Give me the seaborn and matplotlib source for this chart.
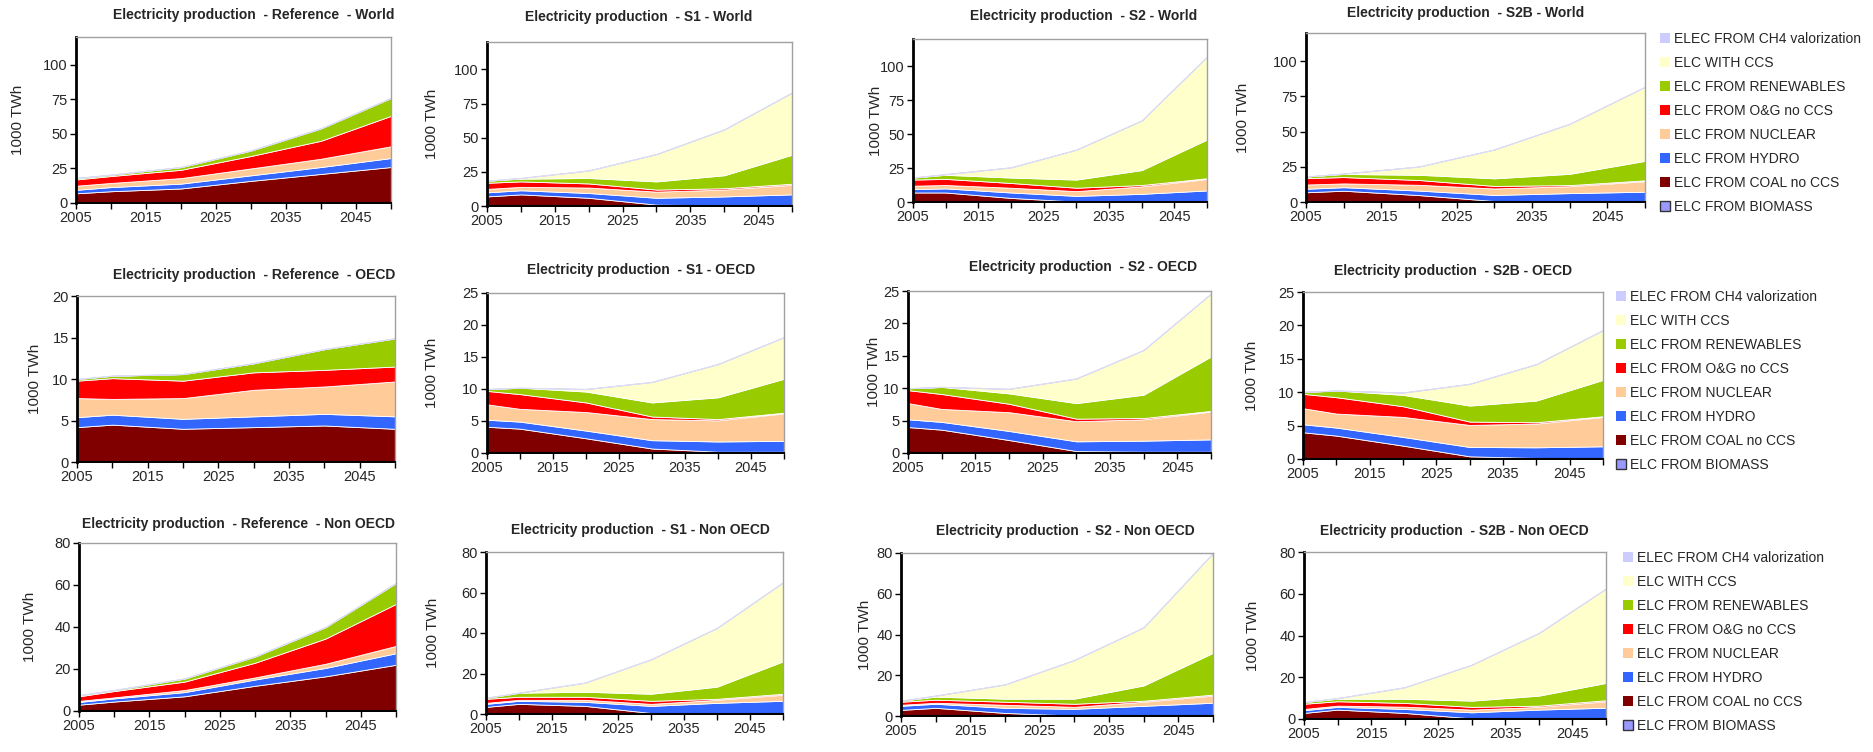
"""
Electricity production per scenario and region, stacked area charts (1000 TWh).
"""

import matplotlib
matplotlib.use("Agg")
import matplotlib.pyplot as plt
from matplotlib.patches import Patch
import seaborn as sns

W, H = 1874, 752

YEARS = [2005, 2010, 2020, 2030, 2040, 2050]

# stack order, bottom to top
LABELS = [
    "ELC FROM BIOMASS", "ELC FROM COAL no CCS", "ELC FROM HYDRO", "ELC FROM NUCLEAR",
    "ELC FROM O&G no CCS", "ELC FROM RENEWABLES", "ELC WITH CCS", "ELEC FROM CH4 valorization",
]
COLORS = ["#9999FF", "#800000", "#3366FF", "#FFCC99", "#FF0000", "#99CC00", "#FFFFCC", "#CCCCFF"]

biomass = [0, 0, 0, 0, 0, 0]
ch4 = [0, 0, 0, 0, 0, 0]

# --- Reference ---
ref_world = dict(coal=[7, 8.5, 10.5, 16, 21, 26], hydro=[2.5, 3, 3.5, 4, 5, 6.5],
                 nuclear=[3, 3, 4, 5, 6, 8.5], og=[4.5, 5, 6, 9, 13, 22],
                 renew=[1, 1, 2, 4, 9, 13], ccs=[0, 0, 0, 0, 0, 0])
ref_oecd = dict(coal=[4.2, 4.5, 4.0, 4.2, 4.4, 4.0], hydro=[1.2, 1.2, 1.2, 1.3, 1.4, 1.5],
                nuclear=[2.3, 1.9, 2.5, 3.2, 3.3, 4.2], og=[2.1, 2.5, 2.1, 2.1, 2.0, 1.8],
                renew=[0.2, 0.3, 0.8, 1.1, 2.5, 3.4], ccs=[0, 0, 0, 0, 0, 0])
ref_non = dict(coal=[3, 4.5, 7, 12, 16.5, 22], hydro=[1.3, 1.5, 2, 3, 4, 5.5],
               nuclear=[0.5, 0.5, 1, 1, 2, 3.5], og=[2.2, 3, 4, 7, 12, 20],
               renew=[0.5, 0.5, 1.5, 3, 5.5, 10], ccs=[0, 0, 0, 0, 0, 0])

# --- S1 ---
s1_world = dict(coal=[7, 8.5, 6, 1, 0.5, 0.3], hydro=[3, 3, 3.5, 5, 6.5, 8.2],
                nuclear=[2.5, 2.5, 4, 4.5, 5, 7], og=[4.5, 4, 3, 1.5, 1, 0.8],
                renew=[1.5, 2, 4, 6, 9.5, 21.2], ccs=[0, 0.5, 5.5, 20, 33.5, 45.5])
s1_oecd = dict(coal=[4.1, 3.8, 2.3, 0.7, 0.2, 0.2], hydro=[1.1, 1.1, 1.2, 1.3, 1.6, 1.7],
               nuclear=[2.4, 2.0, 2.9, 3.3, 3.3, 4.3], og=[2.1, 2.3, 1.5, 0.4, 0.2, 0.1],
               renew=[0.3, 1.0, 1.7, 2.2, 3.4, 5.3], ccs=[0, 0, 0.4, 3.2, 5.2, 6.5])
s1_non = dict(coal=[3.5, 5, 4, 0.5, 0.3, 0.2], hydro=[1.5, 1.5, 2, 3.5, 5.2, 6.3],
              nuclear=[0.5, 0.5, 1, 1, 1.5, 3], og=[2, 1.5, 1.5, 1.5, 0.5, 0.5],
              renew=[0.5, 2, 2.5, 3.5, 6, 16], ccs=[0, 0, 4.5, 17, 29, 39])

# --- S2 ---
s2_world = dict(coal=[7, 7, 3, 0.3, 0.3, 0.3], hydro=[2.5, 3, 4, 4.2, 5.7, 8.2],
                nuclear=[2.5, 2.5, 3.5, 3.5, 5.5, 8.5], og=[4.5, 4.5, 3.5, 2.5, 1, 0.5],
                renew=[1.5, 3, 4, 6, 11, 28.5], ccs=[0, 0.5, 7.5, 22, 36.5, 61])
s2_oecd = dict(coal=[4, 3.6, 2.0, 0.3, 0.2, 0.2], hydro=[1.2, 1.2, 1.4, 1.5, 1.7, 1.9],
               nuclear=[2.5, 2.0, 2.9, 3.1, 3.3, 4.3], og=[2.0, 2.3, 1.3, 0.4, 0.2, 0.1],
               renew=[0.3, 1.1, 1.6, 2.4, 3.6, 8.4], ccs=[0, 0, 0.7, 3.8, 6.9, 9.7])
s2_non = dict(coal=[3, 4, 1.5, 0.2, 0.2, 0.2], hydro=[2, 2, 2.5, 3.3, 4.8, 6.3],
              nuclear=[0.5, 0.5, 1.5, 1, 2, 3.5], og=[1.5, 1.5, 1.5, 1.5, 0.5, 0.5],
              renew=[0.5, 1.5, 1.5, 2.5, 7.5, 20.5], ccs=[0, 0.5, 7, 19, 28.5, 49])

# --- S2B ---
s2b_world = dict(coal=[6.9, 8.0, 4.9, 0.7, 0.4, 0.3], hydro=[2.5, 2.5, 3.2, 4.3, 5.9, 7.0],
                 nuclear=[3.0, 2.7, 4.1, 4.6, 4.9, 7.5], og=[4.6, 4.5, 3.4, 1.8, 0.8, 0.6],
                 renew=[1.1, 2.2, 3.7, 5.4, 8.0, 13.8], ccs=[0, 0.3, 5.9, 20.5, 35.5, 52.6])
s2b_oecd = dict(coal=[4.0, 3.5, 2.0, 0.4, 0.15, 0.05], hydro=[1.2, 1.2, 1.3, 1.4, 1.6, 1.85],
                nuclear=[2.4, 2.1, 3.0, 3.3, 3.55, 4.4], og=[2.15, 2.45, 1.6, 0.5, 0.2, 0.1],
                renew=[0.3, 1.0, 1.7, 2.4, 3.25, 5.45], ccs=[0, 0, 0.35, 3.25, 5.45, 7.45])
s2b_non = dict(coal=[2.9, 4.5, 2.9, 0.3, 0.2, 0.2], hydro=[1.3, 1.3, 1.9, 2.9, 4.3, 5.2],
               nuclear=[0.6, 0.6, 1.1, 1.3, 1.3, 3.1], og=[2.5, 2.1, 1.8, 1.3, 0.6, 0.5],
               renew=[0.8, 1.2, 2.0, 3.0, 4.8, 8.3], ccs=[0, 0.3, 5.5, 17.2, 30.0, 45.2])

SCENARIOS = ["Reference", "S1", "S2", "S2B"]
REGIONS = ["World", "OECD", "Non OECD"]
DATA = [
    [ref_world, s1_world, s2_world, s2b_world],
    [ref_oecd, s1_oecd, s2_oecd, s2b_oecd],
    [ref_non, s1_non, s2_non, s2b_non],
]

# axes boxes in pixels: (left, top, right, bottom)
BOXES = [
    [(76, 37, 391, 203), (487, 42, 792, 206), (913, 39, 1207, 202), (1306, 33, 1645, 202)],
    [(77, 296, 395, 462), (487, 293, 784, 453), (908, 291, 1211, 453), (1303, 292, 1603, 459)],
    [(79, 543, 396, 711), (486, 552, 783, 714), (901, 553, 1213, 716), (1304, 552, 1606, 719)],
]
# title centres in pixels
TITLE_POS = [
    [(254, 15), (639, 17), (1084, 16), (1466, 13)],
    [(254, 275), (641, 270), (1083, 267), (1453, 271)],
    [(238, 524), (640, 530), (1065, 531), (1454, 531)],
]
# distance from axis to centre of the y label, pixels
YLAB_DIST = [
    [58, 55, 37, 63],
    [42, 55, 34, 51],
    [49, 53, 36, 51],
]
LEGEND_POS = [(1660, 32), (1616, 290), (1623, 551)]


def axis_limits(row: int, col: int) -> tuple:
    if row == 0:
        return 120, [0, 25, 50, 75, 100]
    if row == 1:
        if col == 0:
            return 20, [0, 5, 10, 15, 20]
        return 25, [0, 5, 10, 15, 20, 25]
    return 80, [0, 20, 40, 60, 80]


def draw_panel(ax, data: dict, row: int, col: int) -> None:
    stacks = [biomass, data["coal"], data["hydro"], data["nuclear"],
              data["og"], data["renew"], data["ccs"], ch4]
    polys = ax.stackplot(YEARS, *stacks, colors=COLORS, edgecolor="white", linewidth=0.6)
    polys[0].set_edgecolor("black")
    polys[0].set_linewidth(2.2)
    polys[0].set_zorder(3)
    polys[-1].set_edgecolor("#DCDCF2")
    polys[-1].set_linewidth(0.8)

    ymax, yticks = axis_limits(row, col)
    ax.set_xlim(2005, 2050)
    ax.set_ylim(0, ymax)
    ax.set_yticks(yticks)
    xt = list(range(2005, 2051, 5))
    ax.set_xticks(xt)
    ax.set_xticklabels([str(y) if (y - 2005) % 10 == 0 else "" for y in xt])
    ax.tick_params(axis="both", direction="out", length=4, width=1, color="black",
                   labelsize=10.5, pad=2, bottom=True, left=True)

    for side in ["top", "right"]:
        ax.spines[side].set_color("#A0A0A0")
        ax.spines[side].set_linewidth(1.0)
    ax.spines["left"].set_color("black")
    ax.spines["left"].set_linewidth(2.0)
    ax.spines["bottom"].set_color("black")
    ax.spines["bottom"].set_linewidth(1.2)

    left, top, right, bottom = BOXES[row][col]
    ax.set_ylabel("1000 TWh", fontsize=11)
    ax.yaxis.set_label_coords(-(YLAB_DIST[row][col] - 7) / (right - left), 0.5)


def main():
    sns.set_theme(style="white")
    plt.rcParams["font.family"] = ["Liberation Sans", "DejaVu Sans"]

    fig = plt.figure(figsize=(W / 100, H / 100), dpi=100)

    for row in range(3):
        for col in range(4):
            left, top, right, bottom = BOXES[row][col]
            ax = fig.add_axes([left / W, 1 - bottom / H, (right - left) / W, (bottom - top) / H])
            draw_panel(ax, DATA[row][col], row, col)

            scen = SCENARIOS[col]
            gap = "  " if scen == "Reference" else " "
            title = f"Electricity production  - {scen}{gap}- {REGIONS[row]}"
            cx, cy = TITLE_POS[row][col]
            fig.text(cx / W, 1 - cy / H, title, ha="center", va="center",
                     fontsize=10, fontweight="bold")

    # Legenda per rij, van boven naar beneden
    handles = []
    for lab, col in zip(LABELS[::-1], COLORS[::-1]):
        if lab == "ELC FROM BIOMASS":
            handles.append(Patch(facecolor=col, edgecolor="#333333", linewidth=1.0, label=lab))
        else:
            handles.append(Patch(facecolor=col, edgecolor="none", label=lab))

    for lx, ly in LEGEND_POS:
        fig.legend(handles=handles, loc="upper left", bbox_to_anchor=(lx / W, 1 - ly / H),
                   frameon=False, fontsize=10, handlelength=0.75, handleheight=0.75,
                   handletextpad=0.25, labelspacing=0.72, borderpad=0, borderaxespad=0)

    fig.savefig("out.png", dpi=100)
    plt.close(fig)


if __name__ == "__main__":
    main()
